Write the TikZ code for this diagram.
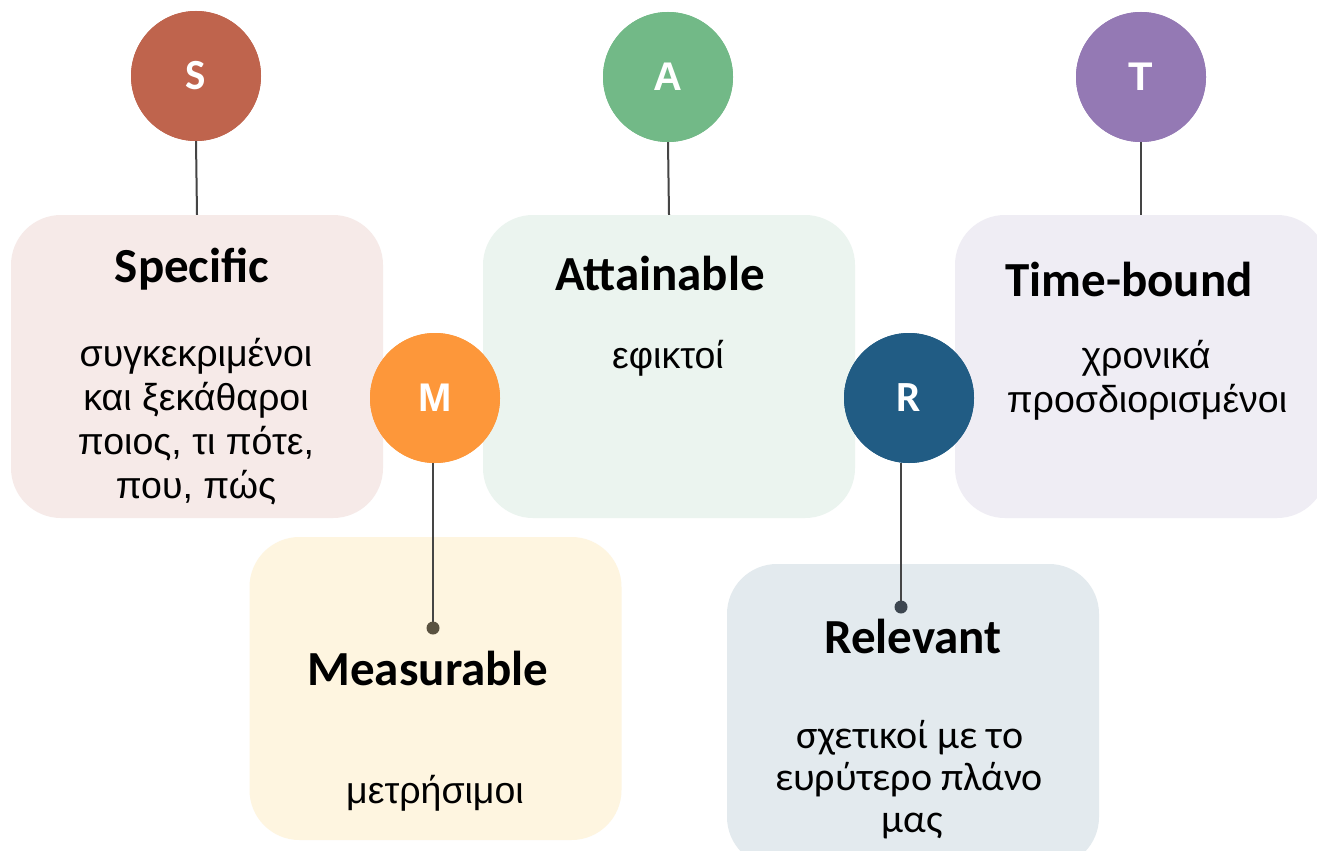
\documentclass[tikz,border=0pt]{standalone}
\usepackage{fontspec}
\setmainfont{Liberation Sans}
\newfontfamily\calibf{Carlito}
\definecolor{cS}{HTML}{BF644D}
\definecolor{cA}{HTML}{72B987}
\definecolor{cT}{HTML}{9479B4}
\definecolor{cM}{HTML}{FD973A}
\definecolor{cR}{HTML}{215C84}
\definecolor{bS}{HTML}{F6EAE8}
\definecolor{bA}{HTML}{EBF4EF}
\definecolor{bT}{HTML}{EFEDF4}
\definecolor{bM}{HTML}{FEF5E0}
\definecolor{bR}{HTML}{E3EAEE}
\definecolor{lineg}{HTML}{454545}
\definecolor{dotM}{HTML}{5A5240}
\definecolor{dotR}{HTML}{3D4650}
\begin{document}
\begin{tikzpicture}[x=1pt,y=-1pt,
 box/.style={rectangle, rounded corners=50pt, minimum width=372pt, minimum height=303pt, inner sep=0pt},
 letter/.style={circle, minimum size=130pt, inner sep=0pt, text=white, font=\calibf\bfseries\fontsize{43}{48}\selectfont},
 letterb/.style={letter, font=\bfseries\fontsize{40}{44}\selectfont},
 head/.style={anchor=base, inner sep=0pt, font=\calibf\bfseries\fontsize{49}{56}\selectfont},
 body/.style={anchor=base, inner sep=0pt, font=\fontsize{37.5}{44}\selectfont},
 bodyc/.style={anchor=base, inner sep=0pt, font=\calibf\fontsize{40}{44}\selectfont},
 conn/.style={draw=lineg, line width=2pt}]
\clip (0,0) rectangle (1317,851);
\fill[white] (0,0) rectangle (1317,851);
% boxes
\node[box, fill=bS] (boxS) at (197,366.5) {};
\node[box, fill=bA] (boxA) at (669,366.5) {};
\node[box, fill=bT] (boxT) at (1141,366.5) {};
\node[box, fill=bM] (boxM) at (435.5,688.5) {};
\node[box, fill=bR] (boxR) at (913,715.5) {};
% circles (positions)
\node[letter, fill=cS] (S) at (196,76) {};
\node[letter, fill=cA] (A) at (668,77) {};
\node[letter, fill=cT] (T) at (1141,77) {};
\node[letter, fill=cM] (M) at (435,398) {};
\node[letter, fill=cR] (R) at (909,398) {};
% connector ends
\coordinate (dM) at (433,628);
\coordinate (dR) at (901,607);
% connectors
\draw[conn] (S.south) -- (boxS.north);
\draw[conn] (A.south) -- (boxA.north);
\draw[conn] (T.south) -- (boxT.north);
\draw[conn] (M.south -| dM) -- (dM);
\draw[conn] (R.south -| dR) -- (dR);
\fill[dotM] (dM) circle (6.5);
\fill[dotR] (dR) circle (6.5);
% circles above lines, with letters
\node[letter, fill=cS] at (S) {S};
\node[letterb, fill=cA] at (A) {A};
\node[letterb, fill=cT] at (T) {T};
\node[letterb, fill=cM] at (M) {M};
\node[letter, fill=cR] at (R) {R};
% headings
\node[head] (hS) at (192,282) {Specific};
\node[head] (hA) at (660,290) {Attainable};
\node[head] (hT) at (1129,296) {Time-bound};
\node[head] (hM) at (428,685) {Measurable};
\node[head] (hR) at (913,653) {Relevant};
% bodies
\node[body] (s1) at (196,366) {συγκεκριμένοι};
\node[body] (s2) at (196,410) {και ξεκάθαροι};
\node[body] (s3) at (196,454) {ποιος, τι πότε,};
\node[body] (s4) at (196,498) {που, πώς};
\node[body] (a1) at (668,368) {εφικτοί};
\node[body] (t1) at (1146,368) {χρονικά};
\node[body] (t2) at (1147,412) {προσδιορισμένοι};
\node[body] (m1) at (435,803) {μετρήσιμοι};
\node[bodyc] (r1) at (910,748) {σχετικοί με το};
\node[bodyc] (r2) at (909,790) {ευρύτερο πλάνο};
\node[bodyc] (r3) at (912,832) {μας};
\end{tikzpicture}
\end{document}
